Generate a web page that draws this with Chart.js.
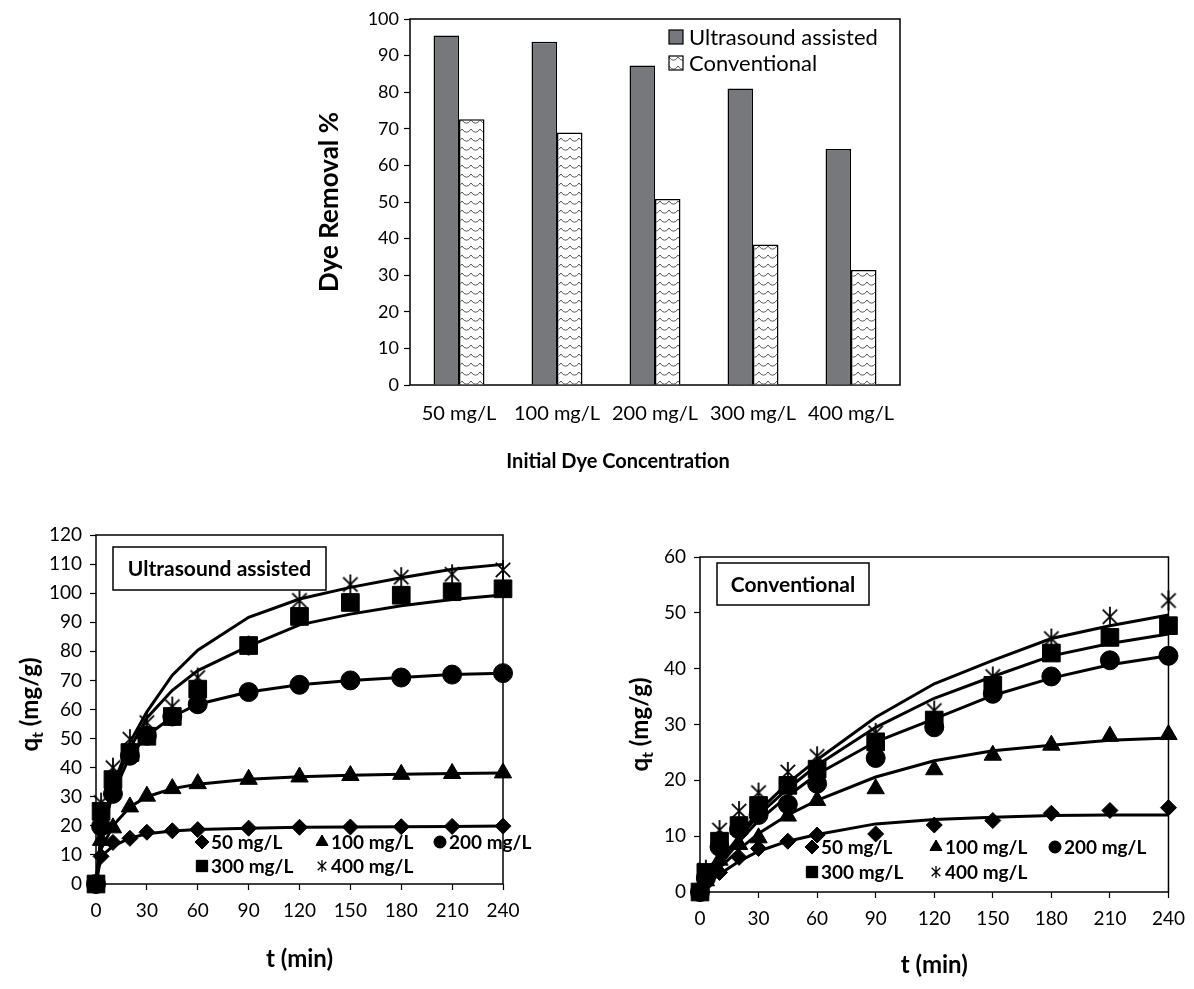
<!DOCTYPE html>
<html><head><meta charset="utf-8">
<script src="https://cdn.jsdelivr.net/npm/chart.js@4.4.1/dist/chart.umd.min.js"></script>
<style>
html,body{margin:0;padding:0;background:#fff;width:1194px;height:989px;overflow:hidden}
canvas{position:absolute}
</style></head><body>
<canvas id="c1" width="620" height="478" style="left:300px;top:0px"></canvas>
<canvas id="c2" width="560" height="477" style="left:0px;top:500px"></canvas>
<canvas id="c3" width="594" height="483" style="left:600px;top:500px"></canvas>
<script>
// ---------- data ----------
const concLabels = ['50 mg/L', '100 mg/L', '200 mg/L', '300 mg/L', '400 mg/L'];
const removalUltrasound = [95.5, 93.8, 87.3, 81.0, 64.5];
const removalConventional = [72.6, 69.0, 50.8, 38.4, 31.4];

const times = [0, 3, 10, 20, 30, 45, 60, 90, 120, 150, 180, 210, 240];
const seriesNames = ['50 mg/L', '100 mg/L', '200 mg/L', '300 mg/L', '400 mg/L'];

// Ultrasound assisted: experimental
const us50 = [0, 9.5, 14.3, 15.7, 17.8, 18.3, 18.7, 19.2, 19.5, 19.6, 19.7, 19.8, 19.9];
const us100 = [0, 15, 19.3, 26.5, 30.2, 32.8, 34.5, 36.0, 36.8, 37.3, 37.7, 38.0, 38.2];
const us200 = [0, 19.8, 31.0, 44.1, 51.0, 57.6, 61.8, 66.0, 68.5, 70.0, 71.0, 72.0, 72.5];
const us300 = [0, 25.0, 35.9, 45.2, 50.8, 57.6, 67.0, 82.0, 92.0, 96.8, 99.3, 100.5, 101.5];
const us400 = [0, 28.0, 40.0, 49.8, 55.5, 61.0, 71.0, 82.0, 97.5, 103.0, 105.5, 106.5, 108.0];
// Ultrasound assisted: model curves
const usFit50 = [0, 9.5, 13.0, 15.8, 17.3, 18.2, 18.7, 19.2, 19.5, 19.6, 19.7, 19.8, 19.9];
const usFit100 = [0, 12.0, 20.0, 26.5, 30.0, 32.8, 34.3, 36.0, 36.9, 37.4, 37.7, 38.0, 38.2];
const usFit200 = [0, 17.0, 31.0, 44.0, 51.0, 57.5, 61.8, 66.0, 68.5, 70.0, 71.0, 72.0, 72.5];
const usFit300 = [0, 16.0, 33.0, 46.6, 57.1, 66.6, 73.4, 81.8, 89.1, 92.8, 95.7, 97.8, 99.4];
const usFit400 = [0, 17.0, 34.0, 48.7, 59.2, 71.8, 80.4, 91.7, 98.0, 102.0, 105.3, 108.2, 109.9];

// Conventional: experimental
const cv50 = [0, 1.5, 3.5, 6.2, 7.8, 9.1, 10.2, 10.4, 12.0, 12.8, 14.1, 14.6, 15.1];
const cv100 = [0, 2.0, 5.7, 8.5, 9.7, 13.6, 16.4, 18.5, 21.9, 24.5, 26.3, 27.9, 28.2];
const cv200 = [0, 2.5, 8.1, 11.2, 13.8, 15.7, 19.4, 24.0, 29.5, 35.5, 38.6, 41.5, 42.3];
const cv300 = [0, 3.5, 9.1, 11.9, 15.5, 19.1, 22.0, 26.9, 30.8, 37.0, 42.8, 45.6, 47.7];
const cv400 = [0, 4.0, 11.1, 14.5, 17.8, 21.5, 24.3, 28.5, 32.5, 38.6, 45.4, 49.3, 52.2];
// Conventional: model curves
const cvFit50 = [0, 1.2, 3.2, 5.5, 7.3, 9.1, 10.3, 12.2, 13.0, 13.4, 13.7, 13.8, 13.8];
const cvFit100 = [0, 1.3, 4.3, 7.6, 10.5, 13.8, 16.4, 20.6, 23.5, 25.3, 26.3, 27.2, 27.6];
const cvFit200 = [0, 1.5, 4.8, 9.0, 12.8, 17.2, 21.1, 26.9, 31.0, 35.2, 38.3, 40.7, 42.3];
const cvFit300 = [0, 1.6, 5.2, 9.6, 13.8, 18.5, 22.7, 29.5, 34.7, 38.6, 42.3, 44.5, 46.2];
const cvFit400 = [0, 1.7, 5.5, 10.0, 14.5, 19.5, 23.7, 31.3, 37.3, 41.5, 45.4, 47.7, 49.6];

const yTicksBar = [0, 100, 10];
const xTicksTime = [0, 240, 30];

// ---------- helpers ----------
Chart.defaults.font.family = 'Lato, "Open Sans", sans-serif';
Chart.defaults.color = '#000';

function wavePattern() {
  const c = document.createElement('canvas'); c.width = 9; c.height = 9;
  const g = c.getContext('2d');
  g.fillStyle = '#fff'; g.fillRect(0, 0, 9, 9);
  g.strokeStyle = '#555'; g.lineWidth = 1;
  g.beginPath(); g.moveTo(0, 3); g.lineTo(2.25, 5.5); g.lineTo(4.5, 6.2); g.lineTo(6.75, 5.5); g.lineTo(9, 3); g.stroke();
  return g.createPattern(c, 'repeat');
}
function starCanvas(r, lw) {
  const s = Math.ceil(r * 2 + 4);
  const c = document.createElement('canvas'); c.width = s; c.height = s;
  const g = c.getContext('2d'); const m = s / 2;
  g.strokeStyle = '#000'; g.lineWidth = lw;
  g.beginPath();
  g.moveTo(m, m - r); g.lineTo(m, m + r);
  const d = r * 0.72;
  g.moveTo(m - d, m - d); g.lineTo(m + d, m + d);
  g.moveTo(m + d, m - d); g.lineTo(m - d, m + d);
  g.stroke();
  return c;
}
const pts = (vals) => times.map((t, i) => ({x: t, y: vals[i]}));

const framePlugin = {
  id: 'frame',
  beforeDatasetsDraw(chart) {
    const {ctx, chartArea: a} = chart;
    ctx.save(); ctx.strokeStyle = '#000'; ctx.lineWidth = 1.5;
    ctx.strokeRect(a.left, a.top, a.right - a.left, a.bottom - a.top);
    ctx.restore();
  }
};
const decorPlugin = {
  id: 'decor',
  afterDraw(chart, args, o) {
    const {ctx, chartArea: a} = chart;
    ctx.save();
    if (o.box) {
      const b = o.box;
      ctx.fillStyle = '#fff'; ctx.fillRect(a.left + b.x, a.top + b.y, b.w, b.h);
      ctx.strokeStyle = '#000'; ctx.lineWidth = 1.5;
      ctx.strokeRect(a.left + b.x, a.top + b.y, b.w, b.h);
      ctx.fillStyle = '#000'; ctx.font = 'bold 21px Lato, sans-serif';
      ctx.textAlign = 'center'; ctx.textBaseline = 'middle';
      ctx.fillText(b.text, a.left + b.x + b.w / 2, a.top + b.y + b.h / 2 + 1);
    }
    if (o.ytitle) {
      const t = o.ytitle;
      ctx.translate(t.x, (a.top + a.bottom) / 2 + t.dy);
      ctx.rotate(-Math.PI / 2);
      ctx.textBaseline = 'alphabetic'; ctx.textAlign = 'left';
      ctx.font = 'bold 24px Lato, sans-serif';
      const w1 = ctx.measureText('q').width;
      ctx.font = 'bold 16px Lato, sans-serif';
      const w2 = ctx.measureText('t').width;
      ctx.font = 'bold 24px Lato, sans-serif';
      const w3 = ctx.measureText(' (mg/g)').width;
      let x = -(w1 + w2 + w3) / 2;
      ctx.fillText('q', x, 8); x += w1;
      ctx.font = 'bold 16px Lato, sans-serif';
      ctx.fillText('t', x, 13); x += w2;
      ctx.font = 'bold 24px Lato, sans-serif';
      ctx.fillText(' (mg/g)', x, 8);
      ctx.setTransform(1, 0, 0, 1, 0, 0);
    }
    if (o.legend) {
      const L = o.legend;
      const items = chart.data.datasets.filter(d => d.inLegend);
      items.forEach((d, i) => {
        const row = i < 3 ? 0 : 1, col = i < 3 ? i : i - 3;
        const mx = a.left + L.cols[col], my = a.bottom - L.rows[row];
        ctx.fillStyle = '#000'; ctx.strokeStyle = '#000'; ctx.lineWidth = 1;
        if (d.legendStyle === 'star') {
          ctx.drawImage(smallStar, mx - smallStar.width / 2, my - smallStar.height / 2);
        } else {
          Chart.helpers.drawPoint(ctx, {pointStyle: d.pointStyle, radius: d.legendRadius, borderWidth: 1}, mx, my);
          ctx.fill();
        }
        ctx.font = 'bold 19px Lato, sans-serif';
        ctx.textAlign = 'left'; ctx.textBaseline = 'middle';
        ctx.fillText(d.label, mx + 9, my + 1);
      });
    }
    if (o.barLegend) {
      const B = o.barLegend;
      chart.data.datasets.forEach((d, i) => {
        const bx = a.left + B.x, by = a.top + B.rows[i];
        ctx.fillStyle = d.backgroundColor; ctx.fillRect(bx, by - 7, 14, 14);
        ctx.strokeStyle = '#000'; ctx.lineWidth = 1.2; ctx.strokeRect(bx, by - 7, 14, 14);
        ctx.fillStyle = '#000'; ctx.font = '22px Lato, sans-serif';
        ctx.textAlign = 'left'; ctx.textBaseline = 'middle';
        ctx.fillText(d.label, bx + 20, by + 1);
      });
    }
    if (o.xtitle) {
      const t = o.xtitle;
      ctx.fillStyle = '#000'; ctx.font = 'bold 20px Lato, sans-serif';
      ctx.textAlign = 'center'; ctx.textBaseline = 'middle';
      ctx.fillText(t.text, t.x, t.y);
    }
    ctx.restore();
  }
};
Chart.register(framePlugin, decorPlugin);

const bigStar = starCanvas(10, 1.8);
const smallStar = starCanvas(6, 1.3);

// ---------- bar chart ----------
new Chart(document.getElementById('c1'), {
  type: 'bar',
  data: {
    labels: concLabels,
    datasets: [
      {label: 'Ultrasound assisted', data: removalUltrasound, backgroundColor: '#77787b', borderColor: '#000', borderWidth: 1.5, barPercentage: 1, categoryPercentage: 0.52},
      {label: 'Conventional', data: removalConventional, backgroundColor: wavePattern(), borderColor: '#000', borderWidth: 1.5, barPercentage: 1, categoryPercentage: 0.52}
    ]
  },
  options: {
    responsive: false, animation: false, devicePixelRatio: 1,
    layout: {padding: {top: 19, right: 20, left: 0, bottom: 0}},
    plugins: {legend: {display: false}, tooltip: {enabled: false},
      decor: {barLegend: {x: 259, rows: [18, 44]}, xtitle: {text: 'Initial Dye Concentration', x: 318, y: 462}}},
    scales: {
      x: {
        grid: {display: false}, border: {display: false},
        ticks: {font: {size: 20}, padding: 9, color: '#000'},
        afterFit: s => { s.height = 93; }
      },
      y: {
        min: yTicksBar[0], max: yTicksBar[1],
        ticks: {stepSize: yTicksBar[2], font: {size: 18}, padding: 5, color: '#000'},
        grid: {drawOnChartArea: false, tickLength: 6, tickColor: '#000', tickWidth: 1.2},
        border: {display: false},
        title: {display: true, text: 'Dye Removal %', font: {size: 26, weight: 'bold'}, padding: {top: 14, bottom: 0}, color: '#000'},
        afterFit: s => { s.width = 110; }
      }
    }
  }
});

// ---------- kinetics charts ----------
function kineticDatasets(exp, fit, sizes) {
  const styles = ['rectRot', 'triangle', 'circle', 'rect', bigStar];
  const ds = [];
  fit.forEach((f, i) => ds.push({label: seriesNames[i] + ' model', data: pts(f), showLine: true, borderColor: '#000', borderWidth: 3, pointRadius: 0, fill: false, tension: 0, clip: false}));
  exp.forEach((e, i) => ds.push({
    label: seriesNames[i], data: pts(e), showLine: false, inLegend: true,
    pointStyle: styles[i], legendStyle: i === 4 ? 'star' : null,
    legendRadius: [7, 7, 6, 8, 0][i],
    pointRadius: sizes[i], pointBackgroundColor: '#000', pointBorderColor: '#000', pointBorderWidth: 1, clip: false
  }));
  return ds;
}
function kineticOptions(yMax, yWidth, padTop, padRight, xH, decor) {
  return {
    responsive: false, animation: false, devicePixelRatio: 1,
    layout: {padding: {top: padTop, right: padRight, left: 0, bottom: 0}},
    plugins: {legend: {display: false}, tooltip: {enabled: false}, decor: decor},
    scales: {
      x: {
        type: 'linear', min: xTicksTime[0], max: xTicksTime[1],
        ticks: {stepSize: xTicksTime[2], font: {size: 19}, padding: 9, color: '#000'},
        grid: {drawOnChartArea: false, tickLength: 6, tickColor: '#000', tickWidth: 1.2},
        border: {display: false},
        title: {display: true, text: 't (min)', font: {size: 24, weight: 'bold'}, padding: {top: 0, bottom: 3}, color: '#000'},
        afterFit: s => { s.height = xH; }
      },
      y: {
        min: 0, max: yMax,
        ticks: {stepSize: 10, font: {size: 19}, padding: 8, color: '#000'},
        grid: {drawOnChartArea: false, tickLength: 6, tickColor: '#000', tickWidth: 1.2},
        border: {display: false},
        afterFit: s => { s.width = yWidth; }
      }
    }
  };
}

new Chart(document.getElementById('c2'), {
  type: 'scatter',
  data: {datasets: kineticDatasets([us50, us100, us200, us300, us400], [usFit50, usFit100, usFit200, usFit300, usFit400], [8, 10, 9.5, 12.5, 10])},
  options: kineticOptions(120, 96, 35, 57, 93, {
    box: {x: 17, y: 12, w: 213, h: 43, text: 'Ultrasound assisted'},
    ytitle: {x: 30, dy: -5},
    legend: {cols: [106, 226, 344], rows: [42, 18]}
  })
});

new Chart(document.getElementById('c3'), {
  type: 'scatter',
  data: {datasets: kineticDatasets([cv50, cv100, cv200, cv300, cv400], [cvFit50, cvFit100, cvFit200, cvFit300, cvFit400], [8, 10, 9.5, 12.5, 10])},
  options: kineticOptions(60, 100, 57, 24, 91, {
    box: {x: 17, y: 6, w: 152, h: 42, text: 'Conventional'},
    ytitle: {x: 40, dy: 0},
    legend: {cols: [112, 236, 355], rows: [45, 20]}
  })
});
</script>
</body></html>
